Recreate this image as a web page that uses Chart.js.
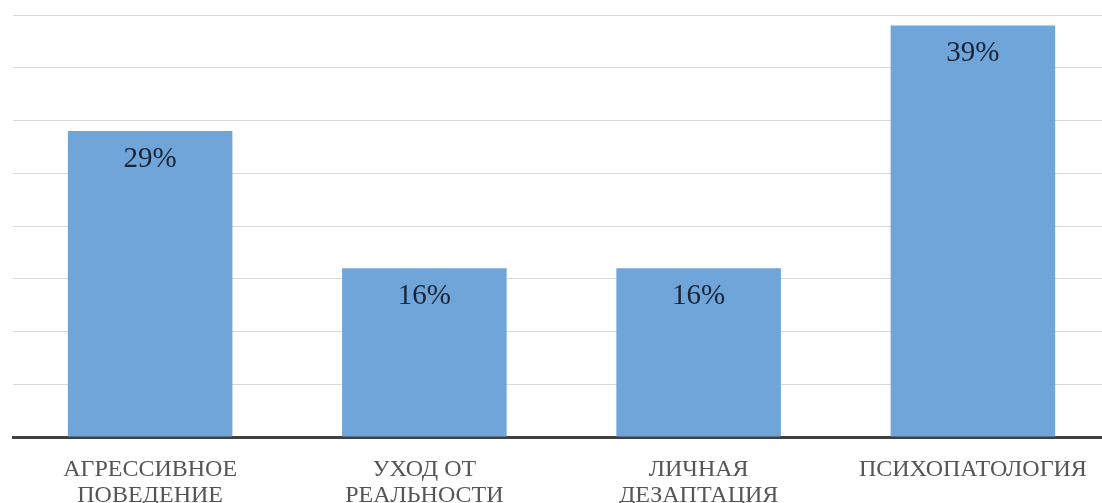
<!DOCTYPE html>
<html>
<head>
<meta charset="utf-8">
<script src="https://cdn.jsdelivr.net/npm/chart.js@4/dist/chart.umd.min.js"></script>
<style>
  html, body { margin: 0; padding: 0; background: #fff; overflow: hidden; width: 1102px; height: 503px; }
  #wrap { width: 1110px; height: 503px; position: relative; }
</style>
</head>
<body>
<div id="wrap"><canvas id="c"></canvas></div>
<script>
const categories = [
  ['АГРЕССИВНОЕ', 'ПОВЕДЕНИЕ'],
  ['УХОД ОТ', 'РЕАЛЬНОСТИ'],
  ['ЛИЧНАЯ', 'ДЕЗАПТАЦИЯ'],
  'ПСИХОПАТОЛОГИЯ'
];
const values = [29, 16, 16, 39];
const valueLabels = ['29%', '16%', '16%', '39%'];

const barLabelPlugin = {
  id: 'barLabels',
  afterDatasetsDraw(chart) {
    const ctx = chart.ctx;
    const meta = chart.getDatasetMeta(0);
    ctx.save();
    ctx.font = '29px "Liberation Serif", "Times New Roman", serif';
    ctx.fillStyle = '#1a2436';
    ctx.textAlign = 'center';
    ctx.textBaseline = 'middle';
    meta.data.forEach((bar, i) => {
      ctx.fillText(valueLabels[i], bar.x, bar.y + 28);
    });
    ctx.restore();
  }
};

new Chart(document.getElementById('c'), {
  type: 'bar',
  data: {
    labels: categories,
    datasets: [{
      data: values,
      backgroundColor: '#70a5d9',
      borderWidth: 0,
      categoryPercentage: 1.0,
      barPercentage: 0.6
    }]
  },
  options: {
    responsive: true,
    maintainAspectRatio: false,
    animation: false,
    devicePixelRatio: 1,
    layout: { padding: { left: 13, top: 15, right: 0, bottom: 0 } },
    plugins: { legend: { display: false }, tooltip: { enabled: false } },
    scales: {
      x: {
        grid: { display: false, drawTicks: false },
        border: { display: true, color: '#404040', width: 3 },
        ticks: {
          padding: 19,
          color: '#555555',
          maxRotation: 0,
          autoSkip: false,
          font: { family: '"Liberation Serif", "Times New Roman", serif', size: 24, lineHeight: '26.5px' }
        },
        afterFit: (s) => { s.height = 66; s.paddingLeft = 0; s.paddingRight = 0; }
      },
      y: {
        min: 0,
        max: 40,
        ticks: { display: false, stepSize: 5 },
        grid: { color: '#d9d9d9', lineWidth: 1, drawTicks: false },
        border: { display: false },
        afterFit: (s) => { s.width = 0; }
      }
    }
  },
  plugins: [barLabelPlugin]
});
</script>
</body>
</html>
